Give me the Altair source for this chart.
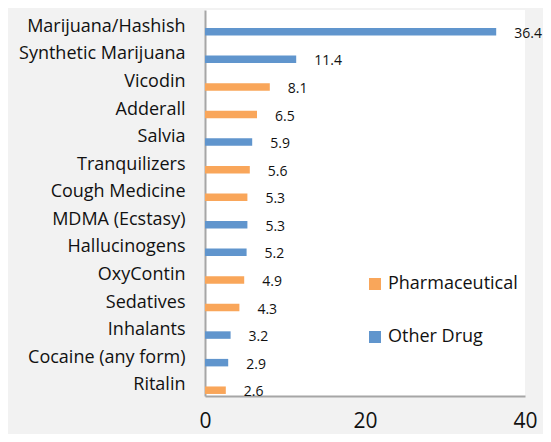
import altair as alt
import pandas as pd

drugs = ["Marijuana/Hashish", "Synthetic Marijuana", "Vicodin", "Adderall", "Salvia ",
         "Tranquilizers", "Cough Medicine", "MDMA (Ecstasy)", "Hallucinogens", "OxyContin",
         "Sedatives", "Inhalants ", "Cocaine (any form) ", "Ritalin"]
values = [36.4, 11.4, 8.1, 6.5, 5.9, 5.6, 5.3, 5.3, 5.2, 4.9, 4.3, 3.2, 2.9, 2.6]
types = ["Other Drug", "Other Drug", "Pharmaceutical", "Pharmaceutical", "Other Drug",
         "Pharmaceutical", "Pharmaceutical", "Other Drug", "Other Drug", "Pharmaceutical",
         "Pharmaceutical", "Other Drug", "Other Drug", "Pharmaceutical"]
series = ["Pharmaceutical", "Other Drug"]
colors = ["#F9A65A", "#6095CD"]
ticks = [0, 20, 40]

df = pd.DataFrame({"drug": drugs, "value": values, "type": types})

font = "Open Sans"

y = alt.Y("drug:N", sort=drugs, title=None,
          scale=alt.Scale(paddingInner=0, paddingOuter=0),
          axis=alt.Axis(ticks=False, labelFontSize=18, labelFont=font, labelColor="#111111",
                        labelPadding=20, labelOffset=3, domainColor="#a6a6a6", domainWidth=2,
                        grid=False, labelLimit=300))
x = alt.X("value:Q", title=None,
          scale=alt.Scale(domain=[0, 40], nice=False, zero=True),
          axis=alt.Axis(values=ticks, ticks=False, labelFontSize=21, labelFont=font,
                        labelColor="#111111", labelPadding=14, domainColor="#a6a6a6",
                        domainWidth=2, grid=False, labelFlush=False))

bars = alt.Chart(df).mark_bar(size=7.5, yOffset=8).encode(
    x=x, y=y,
    color=alt.Color("type:N", scale=alt.Scale(domain=series, range=colors), title=None,
                    legend=alt.Legend(orient="none", legendX=161, legendY=265,
                                      symbolType="square", symbolSize=144,
                                      symbolStrokeWidth=0, labelFontSize=18,
                                      labelFont=font, labelColor="#111111",
                                      rowPadding=35, labelOffset=4))
)

labels = alt.Chart(df).mark_text(align="left", baseline="middle", dx=18, dy=10,
                                 fontSize=14, font=font, color="#111111").encode(
    x="value:Q", y=alt.Y("drug:N", sort=drugs),
    text=alt.Text("value:Q", format=".1f")
)

chart = (bars + labels).properties(
    width=320, height=386,
    background="#f2f2f2",
    padding={"left": 197, "top": 2, "right": 18, "bottom": 38},
    autosize=alt.AutoSizeParams(type="none"),
).configure_view(fill="white", stroke=None)

chart.save("out.html", embed_options={"renderer": "svg", "actions": False})
